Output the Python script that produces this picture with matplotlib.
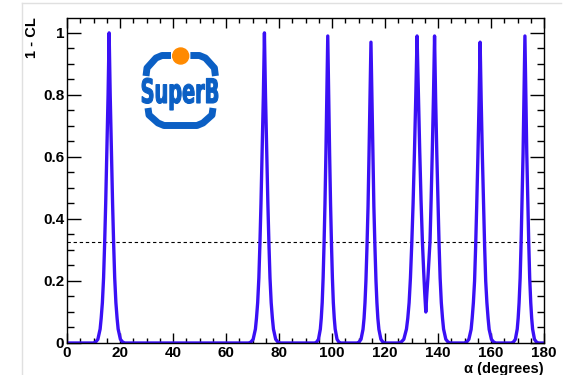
import matplotlib.pyplot as plt
from matplotlib.lines import Line2D
from matplotlib.patches import Circle, PathPatch
from matplotlib.textpath import TextPath
from matplotlib.font_manager import FontProperties
from matplotlib.transforms import Affine2D

# 1 - CL scan vs alpha (one row per peak)
alpha_deg = [0.0,
    9.95, 10.8, 11.65, 12.5, 12.9, 13.35, 13.8, 14.2, 14.6, 15.05, 15.5, 15.9, 16.3, 16.75, 17.2, 17.6, 18.0, 18.45, 18.9, 19.3, 20.15, 21.0, 21.85,
    68.55, 69.4, 70.25, 71.1, 71.5, 71.95, 72.4, 72.8, 73.2, 73.65, 74.1, 74.5, 74.9, 75.35, 75.8, 76.2, 76.6, 77.05, 77.5, 77.9, 78.75, 79.6, 80.45,
    93.5, 94.2, 94.9, 95.6, 95.95, 96.3, 96.65, 97.0, 97.35, 97.7, 98.05, 98.4, 98.75, 99.1, 99.45, 99.8, 100.15, 100.5, 100.85, 101.2, 101.9, 102.6, 103.3,
    109.45, 110.2, 110.95, 111.7, 112.1, 112.45, 112.8, 113.2, 113.6, 113.95, 114.3, 114.7, 115.1, 115.45, 115.8, 116.2, 116.6, 116.95, 117.3, 117.7, 118.45, 119.2, 119.95,
    125.1, 126.1, 127.1, 128.1, 128.6, 129.1, 129.6, 130.1, 130.6, 131.1, 131.6, 132.1,
    132.6, 133.1, 133.6, 134.1, 134.6, 135.0, 135.4, 135.8, 136.2, 136.6, 137.0, 137.4, 137.85, 138.3,
    138.7, 139.1, 139.55, 140.0, 140.4, 140.8, 141.25, 141.7, 142.1, 142.95, 143.8, 144.65,
    149.95, 150.8, 151.65, 152.5, 152.9, 153.35, 153.8, 154.2, 154.6, 155.05, 155.5, 155.9, 156.3, 156.75, 157.2, 157.6, 158.0, 158.45, 158.9, 159.3, 160.15, 161.0, 161.85,
    167.7, 168.45, 169.2, 169.9, 170.25, 170.6, 171.0, 171.35, 171.7, 172.1, 172.45, 172.8, 173.15, 173.5, 173.9, 174.25, 174.6, 175.0, 175.35, 175.7, 176.4, 177.15, 177.9,
    180.0]

one_minus_cl = [0.0,
    0, 0.003, 0.012, 0.045, 0.08, 0.13, 0.21, 0.32, 0.45, 0.62, 0.80, 1.00, 0.80, 0.62, 0.45, 0.32, 0.21, 0.13, 0.08, 0.045, 0.012, 0.003, 0,
    0, 0.003, 0.012, 0.045, 0.08, 0.13, 0.21, 0.32, 0.45, 0.62, 0.80, 1.00, 0.80, 0.62, 0.45, 0.32, 0.21, 0.13, 0.08, 0.045, 0.012, 0.003, 0,
    0, 0.003, 0.012, 0.045, 0.08, 0.13, 0.21, 0.32, 0.45, 0.61, 0.79, 0.99, 0.79, 0.61, 0.45, 0.32, 0.21, 0.13, 0.08, 0.045, 0.012, 0.003, 0,
    0, 0.003, 0.012, 0.044, 0.08, 0.13, 0.20, 0.31, 0.44, 0.60, 0.78, 0.97, 0.78, 0.60, 0.44, 0.31, 0.20, 0.13, 0.08, 0.044, 0.012, 0.003, 0,
    0, 0.003, 0.012, 0.045, 0.08, 0.13, 0.21, 0.32, 0.45, 0.61, 0.79, 0.99,
    0.80, 0.62, 0.46, 0.33, 0.23, 0.16, 0.10, 0.16, 0.21, 0.27, 0.33, 0.46, 0.62, 0.80,
    0.99, 0.79, 0.61, 0.45, 0.32, 0.21, 0.13, 0.08, 0.045, 0.012, 0.003, 0,
    0, 0.003, 0.012, 0.044, 0.08, 0.13, 0.20, 0.31, 0.44, 0.60, 0.78, 0.97, 0.78, 0.60, 0.44, 0.31, 0.20, 0.13, 0.08, 0.044, 0.012, 0.003, 0,
    0, 0.003, 0.012, 0.045, 0.08, 0.13, 0.21, 0.32, 0.45, 0.61, 0.79, 0.99, 0.79, 0.61, 0.45, 0.32, 0.21, 0.13, 0.08, 0.045, 0.012, 0.003, 0,
    0.0]

cl_level = 0.325
x_ticks = [0, 20, 40, 60, 80, 100, 120, 140, 160, 180]
y_ticks = [0, 0.2, 0.4, 0.6, 0.8, 1]
y_tick_labels = ["0", "0.2", "0.4", "0.6", "0.8", "1"]

W, H = 568, 375
plt.rcParams["font.family"] = ["Liberation Sans", "DejaVu Sans"]
fig = plt.figure(figsize=(W / 100, H / 100), dpi=100)

# faint outer frame of the screenshot
fig.add_artist(Line2D([22 / W, 561 / W], [1 - 3 / H, 1 - 3 / H], color="#e0e0e0", lw=1))
fig.add_artist(Line2D([22 / W, 22 / W], [0, 1 - 3 / H], color="#e0e0e0", lw=1))

ax = fig.add_axes([67 / W, 1 - 343 / H, (544 - 67) / W, (343 - 18) / H])
ax.plot(alpha_deg, one_minus_cl, color="#3a10f5", lw=2.4, solid_joinstyle="round", zorder=2)
ax.axhline(cl_level, color="black", lw=0.8, ls=(0, (3, 2.5)), zorder=1)

ax.set_xlim(0, 180)
ax.set_ylim(0, 1.048)
ax.set_xticks(x_ticks)
ax.set_xticks(range(0, 181, 5), minor=True)
ax.set_yticks(y_ticks)
ax.set_yticklabels(y_tick_labels)
ax.set_yticks([i * 0.05 for i in range(21)], minor=True)
ax.tick_params(which="both", direction="in", top=True, right=True, width=1)
ax.tick_params(axis="x", which="major", length=7.2, pad=2.5)
ax.tick_params(axis="x", which="minor", length=3.6)
ax.tick_params(axis="y", which="major", length=10, pad=2)
ax.tick_params(axis="y", which="minor", length=5)
ax.tick_params(labelsize=11)
for lab in ax.get_xticklabels() + ax.get_yticklabels():
    lab.set_fontweight("bold")
for s in ax.spines.values():
    s.set_linewidth(1)
    s.set_zorder(3)

fig.text(32 / W, 1 - 17 / H, "1 - CL", rotation=90, ha="center", va="top",
         fontsize=10.5, fontweight="bold")
fig.text(544 / W, 2.5 / H, "α (degrees)", ha="right", va="baseline",
         fontsize=10.5, fontweight="bold")

# SuperB logo, drawn in pixel coords of its own little axes
lg = fig.add_axes([130 / W, 1 - 140 / H, 100 / W, 100 / H])
lg.set_xlim(130, 230)
lg.set_ylim(140, 40)
lg.axis("off")
blue = "#0b5fc4"
bw = 5
top_left = [(146, 76), (147, 68), (156, 58), (162, 55.5), (171, 55.5)]
bottom = [(148, 108), (149, 115), (158, 123), (164, 125.5), (197, 125.5), (203, 123), (212, 115), (213, 108)]
lg.plot([p[0] for p in top_left], [p[1] for p in top_left], color=blue, lw=bw, solid_capstyle="butt", solid_joinstyle="round")
lg.plot([361.4 - p[0] for p in top_left], [p[1] for p in top_left], color=blue, lw=bw, solid_capstyle="butt", solid_joinstyle="round")
lg.plot([p[0] for p in bottom], [p[1] for p in bottom], color=blue, lw=bw, solid_capstyle="butt", solid_joinstyle="round")
lg.add_patch(Circle((180.7, 56), 8, color="#ff8a00", zorder=3))

tp = TextPath((0, 0), "SuperB", size=10, prop=FontProperties(family="DejaVu Sans", weight="bold"))
bb = tp.get_extents()
sx = 76 / bb.width
sy = 25 / bb.y1
tr = Affine2D().translate(-bb.x0, 0).scale(sx, -sy).translate(142, 103)
lg.add_patch(PathPatch(tr.transform_path(tp), facecolor=blue, edgecolor=blue, lw=0.8))

fig.savefig("out.png", dpi=100)
